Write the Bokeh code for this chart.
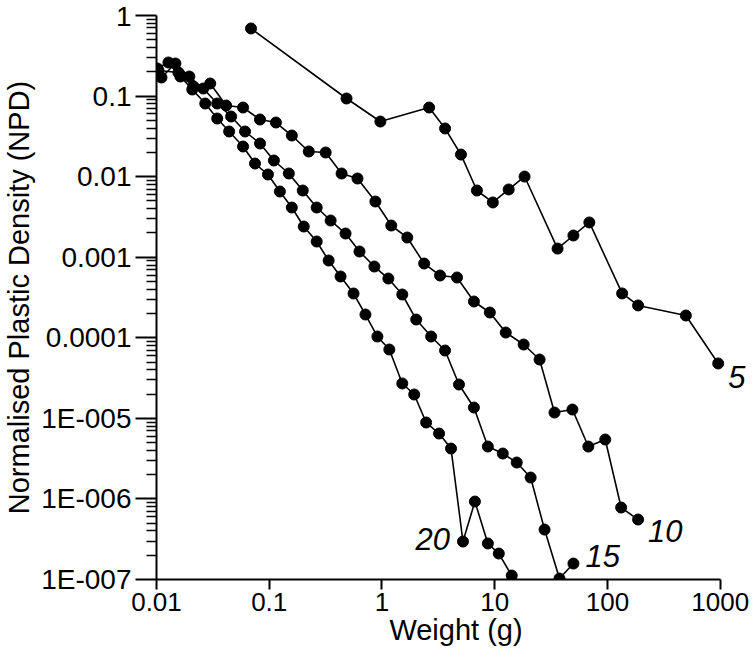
from bokeh.plotting import figure
from bokeh.models import Range1d, FixedTicker, CustomJSTickFormatter, Label
from bokeh.embed import file_html
from bokeh.resources import INLINE

# Series "5"
w5 = [0.0689, 0.485, 0.968, 2.62, 3.63, 5.02, 6.95, 9.62, 13.3, 18.4, 36.1, 49.9, 69.1, 135, 187, 496, 960]
npd5 = [0.69, 0.0933, 0.0483, 0.0721, 0.0396, 0.0188, 0.00673, 0.00478, 0.00693, 0.01003,
        0.00128, 0.00186, 0.00270, 0.000355, 0.000252, 0.000189, 4.8e-5]

# Series "10"
w10 = [0.01041, 0.01564, 0.02121, 0.02996, 0.04147, 0.05859, 0.08278, 0.1146, 0.1586, 0.2241,
       0.3165, 0.4381, 0.6065, 0.8745, 1.210, 1.676, 2.367, 3.276, 4.630, 6.539,
       9.052, 12.53, 18.06, 25.00, 33.92, 48.91, 67.70, 95.61, 132.3, 187.0]
npd10 = [0.2077, 0.1961, 0.1315, 0.1432, 0.07635, 0.07212, 0.05119, 0.04697, 0.03240, 0.02051,
         0.01993, 0.01094, 0.009480, 0.004913, 0.002474, 0.001756, 0.0008351, 0.0005928, 0.0005598, 0.0002820,
         0.0002059, 0.0001162, 8.25e-5, 5.37e-5, 1.181e-5, 1.287e-5, 4.47e-6, 5.46e-6, 7.82e-7, 5.55e-7]

# Series "15"
w15 = [0.01107, 0.01471, 0.01956, 0.02600, 0.03455, 0.04592, 0.06103, 0.08278, 0.1100, 0.1492,
       0.1983, 0.2636, 0.3504, 0.4752, 0.6317, 0.8568, 1.139, 1.514, 2.012, 2.729,
       3.627, 4.821, 6.539, 8.693, 11.79, 15.67, 20.83, 27.68, 37.54, 49.91]
npd15 = [0.1700, 0.2536, 0.1749, 0.1241, 0.08084, 0.05577, 0.03633, 0.02578, 0.01586, 0.01094,
         0.006726, 0.004138, 0.002854, 0.001968, 0.001177, 0.0007664, 0.0005438, 0.0003444, 0.0001685, 0.0001037,
         6.95e-5, 2.630e-5, 1.363e-5, 4.47e-6, 3.66e-6, 2.83e-6, 1.843e-6, 4.17e-7, 1.028e-7, 1.578e-7]

# Series "20"
w20 = [0.01020, 0.01276, 0.01628, 0.02078, 0.02707, 0.03455, 0.04408, 0.05859, 0.07477, 0.09739,
       0.1243, 0.1586, 0.2024, 0.2636, 0.3364, 0.4293, 0.5593, 0.7137, 0.9108, 1.162,
       1.514, 1.932, 2.465, 3.210, 4.098, 5.229, 6.673, 8.693, 10.87, 14.16]
npd20 = [0.2199, 0.2610, 0.1749, 0.1207, 0.08084, 0.05267, 0.03633, 0.02366, 0.01455, 0.01063,
         0.006537, 0.004138, 0.002404, 0.001566, 0.0009101, 0.0005761, 0.0003544, 0.0001944, 0.0001037, 7.15e-5,
         2.71e-5, 1.977e-5, 8.88e-6, 6.48e-6, 4.22e-6, 2.96e-7, 9.28e-7, 2.80e-7, 2.10e-7, 1.12e-7]

x_ticks = [0.01, 0.1, 1, 10, 100, 1000]
y_ticks = [1e-7, 1e-6, 1e-5, 1e-4, 1e-3, 1e-2, 1e-1, 1]
y_minor = [k * 10.0 ** e for e in range(-7, 0) for k in range(2, 10)]

FONT = "Liberation Sans"

p = figure(width=755, height=660, x_axis_type="log", y_axis_type="log",
           x_range=Range1d(0.01, 2057), y_range=Range1d(1e-7, 1),
           output_backend="svg", toolbar_location=None,
           min_border_left=153, min_border_right=0, min_border_top=15, min_border_bottom=81)
p.outline_line_color = None
p.grid.visible = False
p.background_fill_color = "white"

fmt = CustomJSTickFormatter(code="""
const e = Math.round(Math.log10(tick));
if (e >= 0) { return String(Math.round(tick)); }
if (e >= -4) { return tick.toFixed(-e); }
return "1E-" + String(-e).padStart(3, "0");
""")

xa = p.xaxis[0]
xa.bounds = (0.01, 1000)
xa.ticker = FixedTicker(ticks=x_ticks, minor_ticks=[])
xa.formatter = fmt
xa.major_label_text_font = FONT
xa.major_label_text_font_size = "26px"
xa.major_label_text_color = "black"
xa.major_tick_out = 10
xa.major_tick_in = 0
xa.minor_tick_out = 0
xa.minor_tick_in = 0
xa.major_label_standoff = 3
xa.axis_line_width = 2
xa.major_tick_line_width = 2
xa.axis_line_color = "black"
xa.major_tick_line_color = "black"
xa.axis_label = "Weight (g)"
xa.axis_label_text_font = FONT
xa.axis_label_text_font_size = "29px"
xa.axis_label_text_font_style = "normal"
xa.axis_label_text_color = "black"
xa.axis_label_standoff = 0

ya = p.yaxis[0]
ya.ticker = FixedTicker(ticks=y_ticks, minor_ticks=y_minor)
ya.formatter = fmt
ya.major_label_text_font = FONT
ya.major_label_text_font_size = "28px"
ya.major_label_text_color = "black"
ya.major_tick_out = 21
ya.major_tick_in = 0
ya.minor_tick_out = 10
ya.minor_tick_in = 0
ya.major_label_standoff = 4
ya.axis_line_width = 2
ya.major_tick_line_width = 2
ya.minor_tick_line_width = 1.5
ya.axis_line_color = "black"
ya.major_tick_line_color = "black"
ya.minor_tick_line_color = "black"
ya.axis_label = "Normalised Plastic Density (NPD)"
ya.axis_label_text_font = FONT
ya.axis_label_text_font_size = "29px"
ya.axis_label_text_font_style = "normal"
ya.axis_label_text_color = "black"
ya.axis_label_standoff = 3

series = [(w5, npd5), (w10, npd10), (w15, npd15), (w20, npd20)]
for wx, ny in series:
    p.line(wx, ny, line_color="black", line_width=1.6)
    p.scatter(wx, ny, size=11, fill_color="black", line_color="black")

lab_kw = dict(text_font=FONT, text_font_size="31px", text_font_style="italic",
              text_color="black", text_baseline="alphabetic")
p.add_layout(Label(x=w5[-1], y=npd5[-1], x_offset=10, y_offset=-14, text="5", **lab_kw))
p.add_layout(Label(x=w10[-1], y=npd10[-1], x_offset=10, y_offset=-11, text="10", **lab_kw))
p.add_layout(Label(x=w15[-1], y=npd15[-1], x_offset=12, y_offset=8, text="15", **lab_kw))
p.add_layout(Label(x=w20[25], y=npd20[25], x_offset=-13, y_offset=3, text="20",
                   text_align="right", **lab_kw))

open("out.html", "w").write(file_html(p, INLINE))
